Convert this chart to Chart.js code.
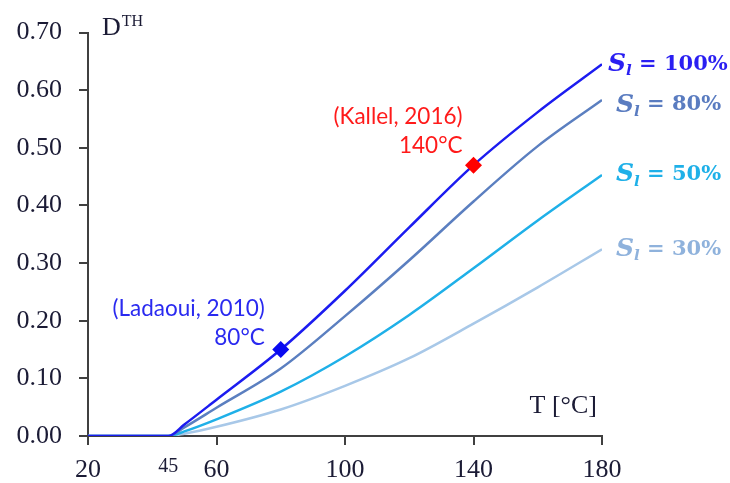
<!DOCTYPE html>
<html lang="en">
<head>
    <meta charset="UTF-8">
    <title>D TH versus temperature</title>
    <style>
        body { margin: 0; background: #fff; }
        #wrap { width: 730px; height: 483px; position: relative; }
    </style>
</head>
<body>
    <div id="wrap"><canvas id="chart"></canvas></div>

    <script src="https://cdn.jsdelivr.net/npm/chart.js"></script>
    <script>
        // temperatures (°C) and D^TH for each saturation level
        const temps = [20, 45, 50, 60, 80, 100, 120, 140, 160, 180];
        const sl100 = [0, 0, 0.020, 0.063, 0.150, 0.252, 0.362, 0.470, 0.562, 0.645];
        const sl80  = [0, 0, 0.015, 0.049, 0.117, 0.208, 0.305, 0.407, 0.503, 0.583];
        const sl50  = [0, 0, 0.008, 0.029, 0.077, 0.138, 0.210, 0.291, 0.374, 0.453];
        const sl30  = [0, 0, 0.004, 0.016, 0.046, 0.087, 0.135, 0.195, 0.258, 0.324];

        const seriesLabels = ['100%', '80%', '50%', '30%'];
        const xTicks = [20, 45, 60, 100, 140, 180];
        const yTicks = [0, 0.1, 0.2, 0.3, 0.4, 0.5, 0.6, 0.7];

        // literature points
        const refNames = ['(Kallel, 2016)', '(Ladaoui, 2010)'];
        const refTemps = [140, 80];
        const refValues = [0.47, 0.15];

        const lineColors = ['#1c1cf0', '#5b7fc0', '#1fb0e8', '#a8c8e8'];
        const labelColors = ['#2a1ff2', '#5a7cc0', '#1fb0e8', '#8fb2dc'];
        const refColors = ['#ff1a1a', '#2a2af0'];
        const markerColors = ['#ff0000', '#0a0af0'];

        const toXY = vals => temps.map((t, i) => ({ x: t, y: vals[i] }));

        const lineSets = [sl100, sl80, sl50, sl30].map((vals, i) => ({
            label: 'Sl = ' + seriesLabels[i],
            data: toXY(vals),
            borderColor: lineColors[i],
            borderWidth: 2.5,
            pointRadius: 0,
            cubicInterpolationMode: 'monotone',
            fill: false,
            order: 1
        }));

        const refSets = refTemps.map((t, i) => ({
            label: refNames[i],
            data: [{ x: t, y: refValues[i] }],
            showLine: false,
            pointStyle: 'rectRot',
            pointRadius: 8.5,
            backgroundColor: markerColors[i],
            borderWidth: 0,
            order: 0
        }));

        const textColor = '#1b1b35';

        function drawSl(ctx, x, y, pct, color) {
            ctx.fillStyle = color;
            ctx.textBaseline = 'middle';
            ctx.textAlign = 'left';
            ctx.font = 'italic bold 25px "DejaVu Serif"';
            ctx.fillText('S', x, y);
            let w = ctx.measureText('S').width;
            ctx.font = 'italic bold 15px "DejaVu Serif"';
            ctx.fillText('l', x + w, y + 7);
            w += ctx.measureText('l').width;
            ctx.font = 'bold 21px "DejaVu Serif"';
            ctx.fillText(' = ' + pct, x + w, y);
        }

        const textPlugin = {
            id: 'texts',
            afterDraw(chart) {
                const ctx = chart.ctx;
                const xs = chart.scales.x, ys = chart.scales.y;
                ctx.save();

                // axis titles
                ctx.fillStyle = textColor;
                ctx.textAlign = 'left';
                ctx.textBaseline = 'alphabetic';
                ctx.font = '26px "Liberation Serif"';
                ctx.fillText('D', 102, 35);
                const dw = ctx.measureText('D').width;
                ctx.font = '16px "Liberation Serif"';
                ctx.fillText('TH', 102 + dw + 1, 26);

                ctx.font = '26px "Liberation Serif"';
                ctx.textAlign = 'right';
                ctx.fillText('T [°C]', xs.right - 5, 413);

                // series labels at the line ends
                const ends = [sl100, sl80, sl50, sl30];
                ends.forEach((vals, i) => {
                    const y = ys.getPixelForValue(vals[vals.length - 1]);
                    const x = xs.getPixelForValue(180) + (i === 0 ? 6 : 14);
                    drawSl(ctx, x, y + (i === 1 ? 5 : 0), seriesLabels[i], labelColors[i]);
                });

                // literature annotations
                const offs = [[-11, -48, -19], [-16, -41, -12]];
                refTemps.forEach((t, i) => {
                    const px = xs.getPixelForValue(t);
                    const py = ys.getPixelForValue(refValues[i]);
                    ctx.fillStyle = refColors[i];
                    ctx.textAlign = 'right';
                    ctx.textBaseline = 'middle';
                    ctx.font = '22.5px Lato';
                    ctx.fillText(refNames[i], px + offs[i][0], py + offs[i][1]);
                    ctx.fillText(t + '°C', px + offs[i][0], py + offs[i][2]);
                });
                ctx.restore();
            }
        };

        new Chart(document.getElementById('chart').getContext('2d'), {
            type: 'line',
            data: { datasets: [...refSets, ...lineSets] },
            options: {
                responsive: true,
                maintainAspectRatio: false,
                animation: false,
                layout: { padding: { top: 25, right: 128, left: 0, bottom: 0 } },
                plugins: {
                    legend: { display: false },
                    tooltip: { enabled: false }
                },
                scales: {
                    x: {
                        type: 'linear',
                        min: 20,
                        max: 180,
                        afterBuildTicks: s => { s.ticks = xTicks.map(v => ({ value: v })); },
                        afterFit: s => { s.height = 47; },
                        border: { display: true, color: '#404040', width: 2 },
                        grid: {
                            drawOnChartArea: false,
                            tickLength: 9,
                            lineWidth: 2,
                            color: c => (c.tick && c.tick.value === 45) ? 'rgba(0,0,0,0)' : '#404040'
                        },
                        ticks: {
                            autoSkip: false,
                            maxRotation: 0,
                            padding: 10,
                            color: textColor,
                            font: c => ({
                                family: 'Liberation Serif',
                                size: (c.tick && c.tick.value === 45) ? 20 : 26
                            })
                        }
                    },
                    y: {
                        min: 0,
                        max: 0.7,
                        afterBuildTicks: s => { s.ticks = yTicks.map(v => ({ value: v })); },
                        afterFit: s => { s.width = 88; },
                        border: { display: true, color: '#404040', width: 2 },
                        grid: {
                            drawOnChartArea: false,
                            tickLength: 9,
                            lineWidth: 2,
                            color: '#404040'
                        },
                        ticks: {
                            padding: 17,
                            color: textColor,
                            font: { family: 'Liberation Serif', size: 26 },
                            callback: v => v.toFixed(2)
                        }
                    }
                }
            },
            plugins: [textPlugin]
        });
    </script>
</body>
</html>
